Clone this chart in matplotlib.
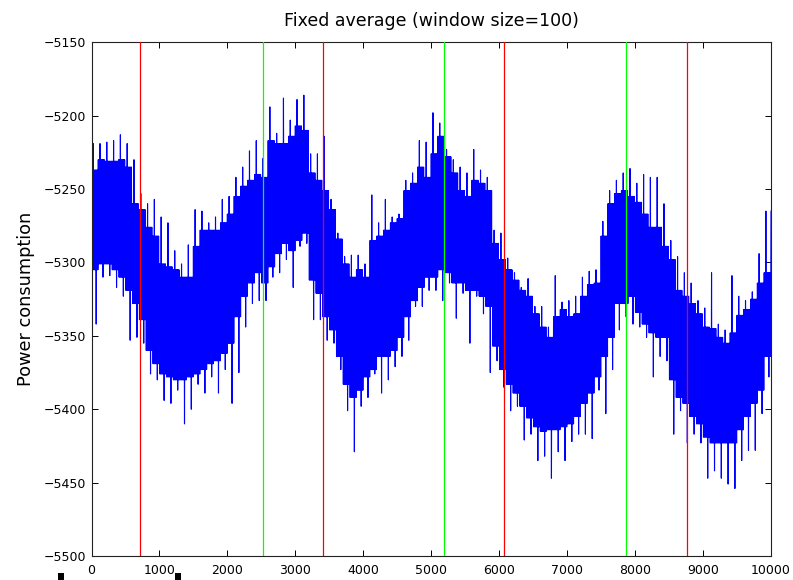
import numpy as np
import matplotlib
matplotlib.use("Agg")
import matplotlib.pyplot as plt
from matplotlib.patches import Rectangle

# ---- data (per 100-sample window) ----
# spike high, core high, core low, spike low
spike_hi = [-5219, -5219, -5218, -5217, -5213, -5219, -5230, -5253, -5260, -5257,
            -5269, -5273, -5292, -5301, -5288, -5264, -5265, -5273, -5269, -5257,
            -5255, -5242, -5235, -5224, -5217, -5229, -5194, -5212, -5188, -5203,
            -5189, -5186, -5226, -5226, -5214, -5257, -5280, -5296, -5295, -5295,
            -5301, -5254, -5273, -5257, -5269, -5267, -5244, -5239, -5217, -5218,
            -5198, -5205, -5223, -5230, -5235, -5239, -5223, -5237, -5242, -5278,
            -5280, -5297, -5307, -5317, -5311, -5330, -5330, -5344, -5309, -5327,
            -5326, -5323, -5310, -5306, -5305, -5272, -5251, -5244, -5239, -5236,
            -5246, -5240, -5242, -5242, -5260, -5285, -5296, -5307, -5314, -5326,
            -5331, -5307, -5342, -5346, -5309, -5323, -5326, -5320, -5294, -5265]
core_hi = [-5237, -5230, -5231, -5231, -5230, -5235, -5260, -5264, -5276, -5282,
           -5301, -5303, -5305, -5310, -5310, -5289, -5278, -5278, -5278, -5273,
           -5267, -5255, -5248, -5244, -5240, -5242, -5217, -5219, -5219, -5214,
           -5207, -5210, -5239, -5244, -5251, -5264, -5284, -5301, -5310, -5305,
           -5310, -5285, -5282, -5278, -5273, -5270, -5251, -5246, -5235, -5242,
           -5226, -5214, -5228, -5239, -5251, -5255, -5244, -5246, -5251, -5287,
           -5298, -5305, -5312, -5319, -5323, -5335, -5344, -5351, -5337, -5332,
           -5337, -5335, -5323, -5315, -5314, -5282, -5260, -5253, -5251, -5255,
           -5259, -5267, -5276, -5276, -5289, -5298, -5319, -5323, -5328, -5335,
           -5344, -5345, -5351, -5355, -5348, -5336, -5332, -5325, -5314, -5307]
core_lo = [-5305, -5301, -5301, -5305, -5310, -5319, -5328, -5339, -5360, -5369,
           -5376, -5378, -5380, -5380, -5378, -5376, -5373, -5369, -5367, -5362,
           -5355, -5337, -5323, -5314, -5307, -5314, -5303, -5294, -5287, -5292,
           -5285, -5280, -5312, -5321, -5337, -5346, -5364, -5383, -5392, -5387,
           -5378, -5373, -5364, -5364, -5360, -5351, -5337, -5326, -5317, -5310,
           -5310, -5305, -5307, -5314, -5314, -5319, -5319, -5323, -5330, -5357,
           -5373, -5383, -5389, -5398, -5406, -5412, -5415, -5414, -5414, -5412,
           -5410, -5405, -5396, -5389, -5378, -5364, -5351, -5328, -5328, -5323,
           -5334, -5342, -5348, -5351, -5351, -5380, -5392, -5396, -5405, -5410,
           -5419, -5423, -5423, -5423, -5423, -5414, -5405, -5396, -5387, -5364]
spike_lo = [-5342, -5310, -5309, -5317, -5323, -5353, -5351, -5355, -5376, -5380,
            -5394, -5396, -5387, -5410, -5400, -5383, -5389, -5378, -5389, -5373,
            -5396, -5375, -5344, -5328, -5326, -5326, -5310, -5307, -5298, -5317,
            -5289, -5287, -5339, -5339, -5353, -5355, -5373, -5401, -5429, -5398,
            -5392, -5376, -5389, -5380, -5371, -5364, -5353, -5330, -5330, -5319,
            -5319, -5326, -5314, -5338, -5321, -5355, -5323, -5335, -5375, -5367,
            -5385, -5401, -5398, -5421, -5417, -5435, -5432, -5447, -5429, -5435,
            -5422, -5417, -5417, -5420, -5387, -5403, -5373, -5346, -5337, -5342,
            -5344, -5351, -5378, -5364, -5367, -5417, -5401, -5423, -5417, -5423,
            -5447, -5442, -5447, -5451, -5454, -5435, -5428, -5428, -5403, -5378]
end_value = -5265
window_size = 100

red_lines = [720, 3403, 6073, 8760]
green_lines = [2518, 5190, 7872]

x_ticks = [0, 1000, 2000, 3000, 4000, 5000, 6000, 7000, 8000, 9000, 10000]
y_ticks = [-5500, -5450, -5400, -5350, -5300, -5250, -5200, -5150]

title = "Fixed average (window size=100)"
ylabel = "Power consumption"

# ---- build the dense trace from the window envelopes ----
SH, CH, CL, SL = map(np.asarray, (spike_hi, core_hi, core_lo, spike_lo))
order = np.column_stack([CH, CL, CH, CL, SH, CL, CH, CL,
                         CH, CL, CH, SL, CH, CL, CH, CL])
n_per = order.shape[1]
xs = (np.arange(len(SH))[:, None] * window_size
      + np.arange(n_per)[None, :] * window_size / n_per).ravel()
ys = order.ravel()
xs = np.append(xs, len(SH) * window_size)
ys = np.append(ys, end_value)

fig = plt.figure(figsize=(7.93, 5.80), dpi=100)
ax = fig.add_axes([91.5 / 793, 24 / 580, (771 - 91.5) / 793, (556 - 42.3) / 580])

ax.plot(xs, ys, color="#0000ff", lw=0.8, zorder=2)
for xv in red_lines:
    ax.axvline(xv, color="#ff0000", lw=0.9, zorder=3)
for xv in green_lines:
    ax.axvline(xv, color="#00ff00", lw=0.9, zorder=3)

ax.set_xlim(0, 10000)
ax.set_ylim(-5500, -5150)
ax.set_xticks(x_ticks)
ax.set_yticks(y_ticks)
ax.set_xticklabels([str(v) for v in x_ticks])
ax.tick_params(direction="in", length=4.3, width=0.7, top=True, right=True,
               labelsize=9, colors="black")
ax.tick_params(axis="x", pad=6)
ax.tick_params(axis="y", pad=4)
for s in ax.spines.values():
    s.set_linewidth(0.8)
    s.set_color("#222222")

ax.set_title(title, fontsize=12.5, pad=12)
ax.set_ylabel(ylabel, fontsize=12.8, labelpad=6)

# small black marks at the bottom edge
for px in (58, 175):
    fig.add_artist(Rectangle((px / 793, 0), 6 / 793, 7 / 580, transform=fig.transFigure,
                             color="black", lw=0))

fig.savefig("out.png", dpi=100)
